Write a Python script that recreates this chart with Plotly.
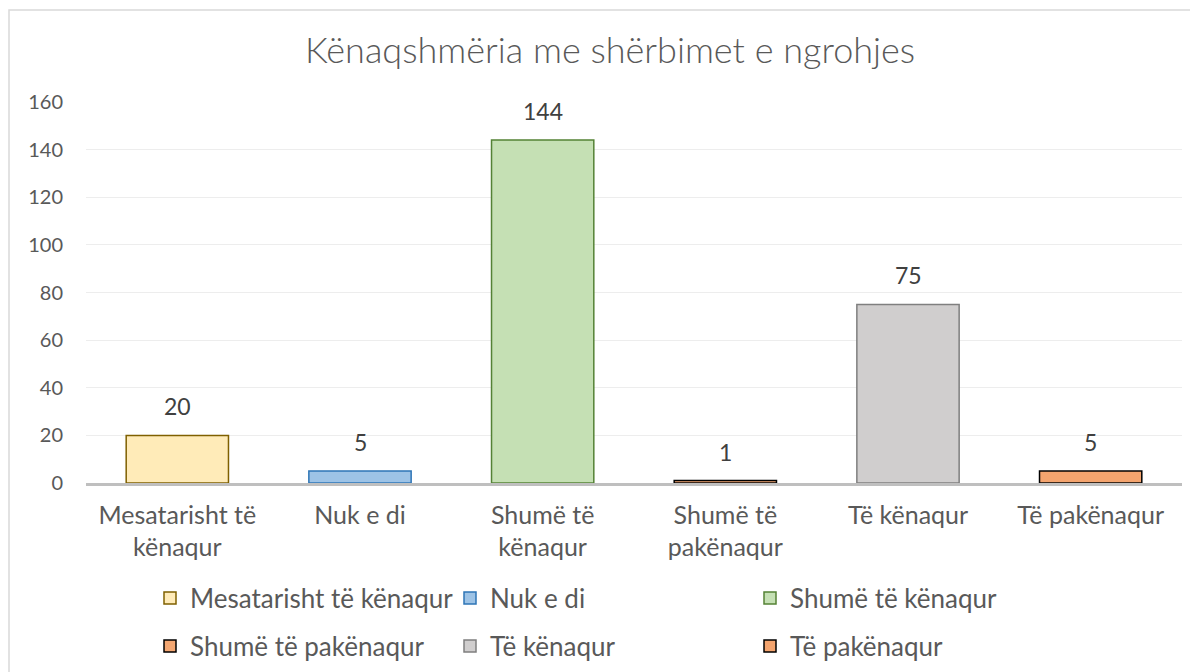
import plotly.graph_objects as go

categories = ["Mesatarisht të kënaqur", "Nuk e di", "Shumë të kënaqur",
              "Shumë të pakënaqur", "Të kënaqur", "Të pakënaqur"]
tick_labels = ["Mesatarisht të<br>kënaqur", "Nuk e di", "Shumë të<br>kënaqur",
               "Shumë të<br>pakënaqur", "Të kënaqur", "Të pakënaqur"]
values = [20, 5, 144, 1, 75, 5]
fill_colors = ["#FFEBB8", "#9DC3E6", "#C5E0B4", "#F4A772", "#D0CECE", "#F4A46E"]
line_colors = ["#7F6000", "#2E75B6", "#548235", "#000000", "#7F7F7F", "#000000"]
y_ticks = [0, 20, 40, 60, 80, 100, 120, 140, 160]

# page body adds an 8px offset; figure is sized to compensate
OFF = 8
W, H = 1198 - OFF, 672 - OFF
ML, MT = 86 - OFF, 102 - OFF
MR = W - (1182 - OFF)
MB = H - (483 - OFF)
PW, PH = W - ML - MR, H - MT - MB
FONT = "Lato"
GREY = "#595959"


def px_x(xs):  # screen x -> paper fraction
    return (xs - OFF - ML) / PW


def px_y(ys):  # screen y -> paper fraction
    return (H - MB - (ys - OFF)) / PH


fig = go.Figure()
for i, (c, v, fc, lc) in enumerate(zip(categories, values, fill_colors, line_colors)):
    fig.add_trace(go.Bar(
        x=[c], y=[v], name=c,
        marker=dict(color=fc, line=dict(color=lc, width=1.5)),
        legend="legend" if i < 3 else "legend2",
        hoverinfo="x+y",
    ))
    fig.add_annotation(x=c, y=v, text=str(v), showarrow=False,
                       yanchor="bottom", yshift=13,
                       font=dict(family=FONT, size=23, color="#404040"))

# chart frame (open at right/bottom, as in the source)
fig.add_shape(type="rect", xref="paper", yref="paper",
              x0=px_x(9), x1=px_x(1240),
              y0=px_y(720), y1=px_y(10),
              line=dict(color="#D9D9D9", width=1.5), fillcolor="rgba(0,0,0,0)",
              layer="below")

legend_common = dict(orientation="h", xanchor="left", yanchor="middle",
                     x=px_x(150), entrywidth=255, entrywidthmode="pixels",
                     font=dict(family=FONT, size=26, color=GREY),
                     bgcolor="rgba(0,0,0,0)", itemclick=False)

fig.update_layout(
    width=W, height=H,
    margin=dict(l=ML, r=MR, t=MT, b=MB, autoexpand=False),
    paper_bgcolor="white", plot_bgcolor="white",
    barmode="overlay", bargap=0.44,
    title=dict(text="Kënaqshmëria me shërbimet e ngrohjes",
               x=(610 - OFF) / W, xanchor="center", y=1 - (50 - OFF) / H, yanchor="middle",
               font=dict(family=FONT, size=36, weight=300, color=GREY)),
    font=dict(family=FONT, color=GREY),
    legend=dict(**legend_common, y=px_y(598)),
    legend2=dict(**legend_common, y=px_y(646)),
    xaxis=dict(categoryorder="array", categoryarray=categories,
               tickvals=categories, ticktext=tick_labels,
               tickfont=dict(family=FONT, size=25, color=GREY),
               showline=True, linecolor="#BFBFBF", linewidth=2.5,
               showgrid=False, ticks="", ticklabelstandoff=8),
    yaxis=dict(range=[0, 160], tickvals=y_ticks,
               tickfont=dict(family=FONT, size=20, color=GREY),
               showgrid=True, gridcolor="#EDEDED", gridwidth=1,
               zeroline=False, showline=False, ticks="",
               ticklabelstandoff=22),
)

fig.write_html("out.html")
